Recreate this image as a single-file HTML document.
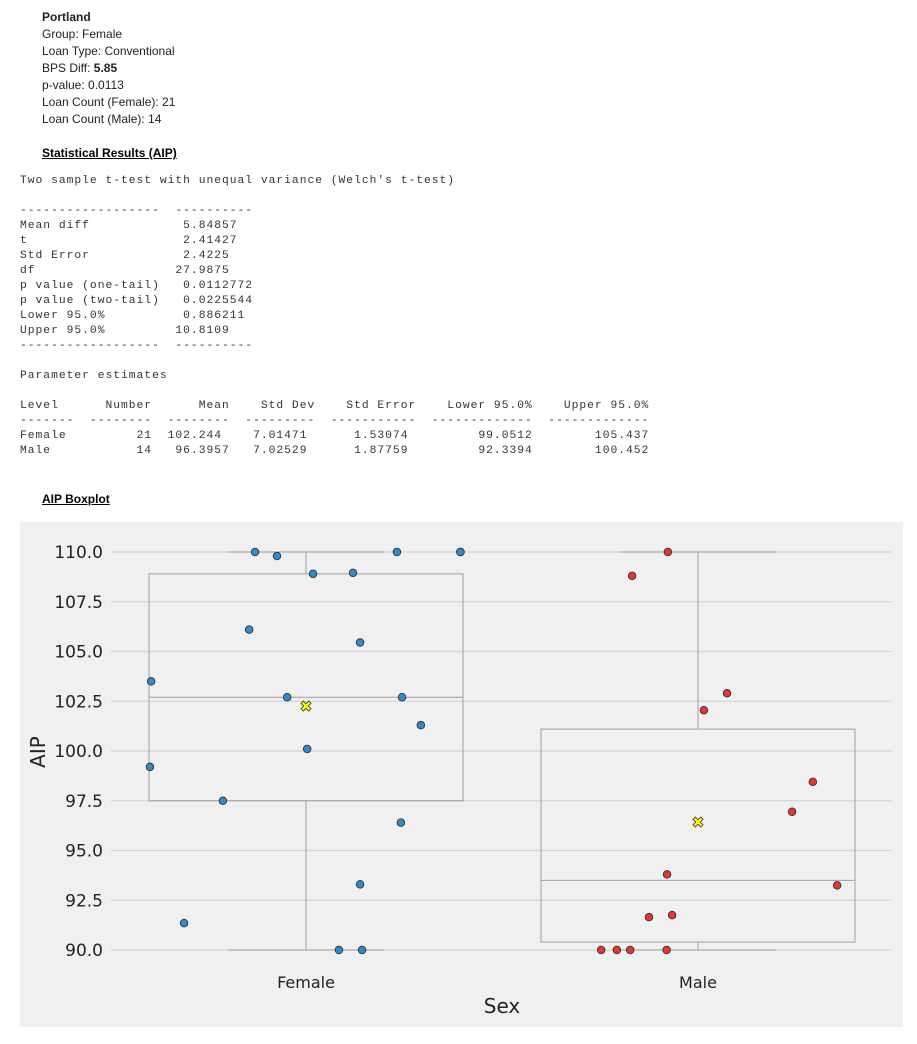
<!DOCTYPE html>
<html><head><meta charset="utf-8"><style>
body{margin:0;width:917px;height:1044px;background:#fff;position:relative;overflow:hidden;font-family:"Liberation Sans",sans-serif;}
.info{position:absolute;left:42px;top:9px;font-size:12px;line-height:17px;color:#222;}
.h{position:absolute;left:42px;font-size:12px;font-weight:bold;text-decoration:underline;color:#000;}
pre{position:absolute;left:20px;margin:0;font-family:"Liberation Mono",monospace;font-size:11.3px;line-height:15px;color:#333;letter-spacing:0.99px;}
</style></head><body>
<div class="info"><b>Portland</b><br>Group: Female<br>Loan Type: Conventional<br>BPS Diff: <b>5.85</b><br>p-value: 0.0113<br>Loan Count (Female): 21<br>Loan Count (Male): 14</div>
<div class="h" style="top:146px">Statistical Results (AIP)</div>
<pre style="top:174px">Two sample t-test with unequal variance (Welch's t-test)

------------------  ----------
Mean diff            5.84857
t                    2.41427
Std Error            2.4225
df                  27.9875
p value (one-tail)   0.0112772
p value (two-tail)   0.0225544
Lower 95.0%          0.886211
Upper 95.0%         10.8109
------------------  ----------

Parameter estimates

Level      Number      Mean    Std Dev    Std Error    Lower 95.0%    Upper 95.0%
-------  --------  --------  ---------  -----------  -------------  -------------
Female         21  102.244    7.01471      1.53074         99.0512        105.437
Male           14   96.3957   7.02529      1.87759         92.3394        100.452</pre>
<div class="h" style="top:492px">AIP Boxplot</div>
<svg id="chart" width="917" height="1044" style="position:absolute;left:0;top:0"></svg>
<script>
const categories=["Female","Male"];
const yTicks=[90,92.5,95,97.5,100,102.5,105,107.5,110];
const stats=[{q1:97.5,med:102.7,q3:108.9,lo:90,hi:110,mean:102.244},{q1:90.4,med:93.5,q3:101.1,lo:90,hi:110,mean:96.3957}];
const femaleVals=[110,109.8,108.9,108.95,110,110,110,106.1,105.45,103.5,102.7,102.7,101.3,100.1,99.2,97.5,96.4,93.3,91.35,90,90];
const femaleJit=[-0.13,-0.074,0.018,0.12,0.232,0.394,0.394,-0.145,0.138,-0.395,-0.048,0.245,0.293,0.003,-0.398,-0.212,0.242,0.138,-0.311,0.084,0.143];
const maleVals=[110,108.8,102.9,102.05,98.45,96.95,93.25,93.8,91.75,91.65,90,90,90,90];
const maleJit=[-0.077,-0.168,0.074,0.015,0.293,0.240,0.355,-0.079,-0.066,-0.125,-0.247,-0.207,-0.173,-0.08];
const S="http://www.w3.org/2000/svg",svg=document.getElementById('chart');
const y=v=>552+(110-v)*19.9, x=i=>306+i*392, W=392;
function el(t,a,p){const e=document.createElementNS(S,t);for(const k in a)e.setAttribute(k,a[k]);(p||svg).appendChild(e);return e;}
const bg=el('rect',{x:20,y:522,width:883,height:505,fill:'#f0f0f0'});


yTicks.forEach(t=>{
 const g=el('line',{x1:111,x2:892,y1:y(t),y2:y(t),stroke:'#d4d4d4','stroke-width':1.3});
 
 
 const l=el('text',{x:103,y:y(t)+6,'text-anchor':'end','font-size':17,fill:'#222','font-family':'DejaVu Sans,sans-serif'});
 l.textContent=t.toFixed(1);
 
 
});
stats.forEach((s,i)=>{
 const cx=x(i),st={stroke:'#a0a0a0','stroke-width':1,fill:'none'};
 const g=el('g',{});
 
 
 el('line',{x1:cx,x2:cx,y1:y(s.q3),y2:y(s.hi),...st},g);
 el('line',{x1:cx,x2:cx,y1:y(s.q1),y2:y(s.lo),...st},g);
 el('line',{x1:cx-78,x2:cx+78,y1:y(s.hi),y2:y(s.hi),...st},g);
 el('line',{x1:cx-78,x2:cx+78,y1:y(s.lo),y2:y(s.lo),...st},g);
 el('rect',{x:cx-157,width:314,y:y(s.q3),height:y(s.q1)-y(s.q3),...st},g);
 el('line',{x1:cx-157,x2:cx+157,y1:y(s.med),y2:y(s.med),...st},g);
 const lb=el('text',{x:cx,y:988,'text-anchor':'middle','font-size':16,fill:'#222','font-family':'DejaVu Sans,sans-serif'});
 lb.textContent=categories[i];
 
 
});
[[femaleVals,femaleJit,'#2e8ccc'],[maleVals,maleJit,'#e8352e']].forEach(([vals,jit,c],i)=>{
 vals.forEach((v,k)=>{
  const p=el('circle',{cx:x(i)+jit[k]*W,cy:y(v),r:3.8,fill:c,stroke:'#333','stroke-width':0.9});
  
  
 });
});
stats.forEach((s,i)=>{
 const m=el('text',{x:x(i),y:y(s.mean)+5,'text-anchor':'middle','font-size':15,'font-weight':'bold',fill:'#ffff00',stroke:'#333','stroke-width':0.8,'font-family':'DejaVu Sans,sans-serif'});
 m.textContent='✖';
 
 
});
const yt=el('text',{x:0,y:0,transform:'translate(45,752) rotate(-90)','text-anchor':'middle','font-size':20,fill:'#222','font-family':'DejaVu Sans,sans-serif'});
yt.textContent='AIP';


const xt=el('text',{x:502,y:1013,'text-anchor':'middle','font-size':20,fill:'#222','font-family':'DejaVu Sans,sans-serif'});
xt.textContent='Sex';


</script>
</body></html>
